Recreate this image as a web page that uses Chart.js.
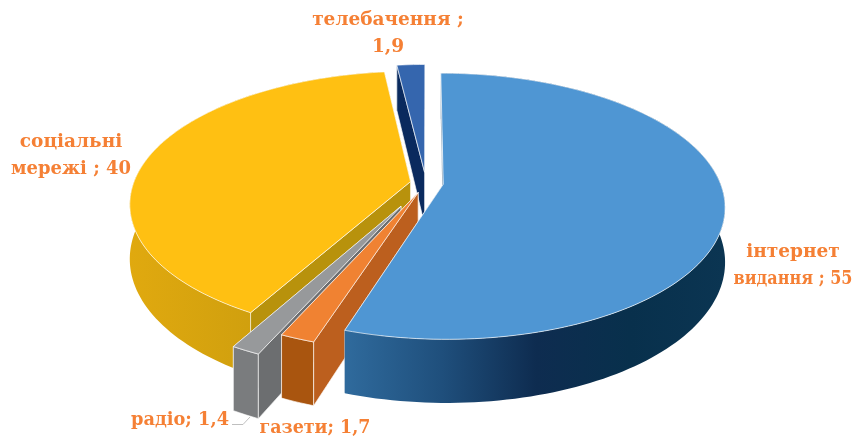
<!DOCTYPE html>
<html><head><meta charset="utf-8">
<style>html,body{margin:0;padding:0;background:#fff}canvas{display:block;filter:blur(0.5px)}</style>
<script src="https://cdn.jsdelivr.net/npm/chart.js@4"></script>
</head><body><canvas id="c" width="858" height="441"></canvas>
<script>
const categories = ['інтернет видання','газети','радіо','соціальні мережі','телебачення'];
const values = [55,1.7,1.4,40,1.9];
const labelLines = [['інтернет','видання ; 55'],['газети; 1,7'],['радіо; 1,4'],['соціальні','мережі ; 40'],['телебачення ;','1,9']];

const explode = [6.3,7.8,19.6,5.7,8.3];
const topColors = ['#4F96D3','#F08232','#97999B','#FFC012','#3566AE'];
const cutColors = ['#1F4E79','#BC5F1E','#6C6E70','#B8920C','#0A2A5E'];
const paintOrder = [4,3,2,1,0];
const labelAnchors = [[793,252,119],[315,428,111],[180,420,98],[71,142,120],[388,20,152]];
const view = {cx:426,cy:183,R:277,b:129,p:0.165,D:53};
function project(X,Y,z){
  const w = 1-view.p*Y;
  return [view.cx+view.R*X/w, view.cy+(view.b*Y+view.D*z)/w];
}
function poly(ctx,pts,fill,stroke){
  ctx.beginPath();
  pts.forEach((p,i)=>i?ctx.lineTo(p[0],p[1]):ctx.moveTo(p[0],p[1]));
  ctx.closePath();
  ctx.fillStyle=fill; ctx.fill();
  if(stroke){ctx.strokeStyle=stroke;ctx.lineWidth=1;ctx.stroke();}
}
function wallFill(ctx,i){
  if(i===0){
    const g=ctx.createLinearGradient(347,0,725,0);
    g.addColorStop(0,'#2F6A9C');g.addColorStop(0.25,'#1F4F7C');
    g.addColorStop(0.5,'#0E2C50');g.addColorStop(0.75,'#08304C');g.addColorStop(1,'#0B3552');
    return g;
  }
  if(i===3){
    const g=ctx.createLinearGradient(130,0,260,0);
    g.addColorStop(0,'#E0A90F');g.addColorStop(1,'#CF9F0E');
    return g;
  }
  return {1:'#A9550F',2:'#7A7C7E',4:'#2B5596'}[i];
}
const pie3d = {
  id:'pie3d',
  beforeDatasetsDraw(chart){
    const ctx=chart.ctx, arcs=chart.getDatasetMeta(0).data;
    paintOrder.forEach(i=>{
      const a=arcs[i], e=a.options.offset/100;
      const mid=(a.startAngle+a.endAngle)/2;
      const ox=Math.cos(mid)*e, oy=Math.sin(mid)*e;
      const n=Math.max(4,Math.ceil((a.endAngle-a.startAngle)*40));
      const rim=[];
      for(let k=0;k<=n;k++){
        const t=a.startAngle+(a.endAngle-a.startAngle)*k/n;
        rim.push([ox+Math.cos(t),oy+Math.sin(t)]);
      }
      const T=q=>project(q[0],q[1],0), B=q=>project(q[0],q[1],1);
      const c=[ox,oy];
      const edge='rgba(255,255,255,0.65)';
      // far cut face, outer wall, near cut face, top face
      poly(ctx,[T(c),T(rim[n]),B(rim[n]),B(c)],cutColors[i],edge);
      poly(ctx,rim.map(T).concat(rim.slice().reverse().map(B)),wallFill(ctx,i),i===0||i===3?null:edge);
      poly(ctx,[T(c),T(rim[0]),B(rim[0]),B(c)],cutColors[i],edge);
      poly(ctx,[T(c)].concat(rim.map(T)),topColors[i],edge);
    });
    return false;
  },
  afterDraw(chart){
    const ctx=chart.ctx;
    ctx.save();
    ctx.strokeStyle='#BFBFBF';ctx.lineWidth=1;
    ctx.beginPath();ctx.moveTo(232,424.5);ctx.lineTo(243,424.5);ctx.lineTo(250,417);ctx.stroke();
    ctx.fillStyle='#F58035';
    ctx.font='bold 18.5px "DejaVu Serif"';
    ctx.textAlign='center';ctx.textBaseline='middle';
    labelLines.forEach((lines,i)=>{
      const [x,y,mw]=labelAnchors[i];
      lines.forEach((s,j)=>ctx.fillText(s,x,y+j*27,mw));
    });
    ctx.restore();
  }
};
new Chart(document.getElementById('c'),{
  type:'pie',
  data:{labels:categories,datasets:[{data:values,backgroundColor:topColors,offset:explode}]},
  options:{responsive:false,animation:false,events:[],
    plugins:{legend:{display:false},tooltip:{enabled:false}}},
  plugins:[pie3d]
});
</script></body></html>
